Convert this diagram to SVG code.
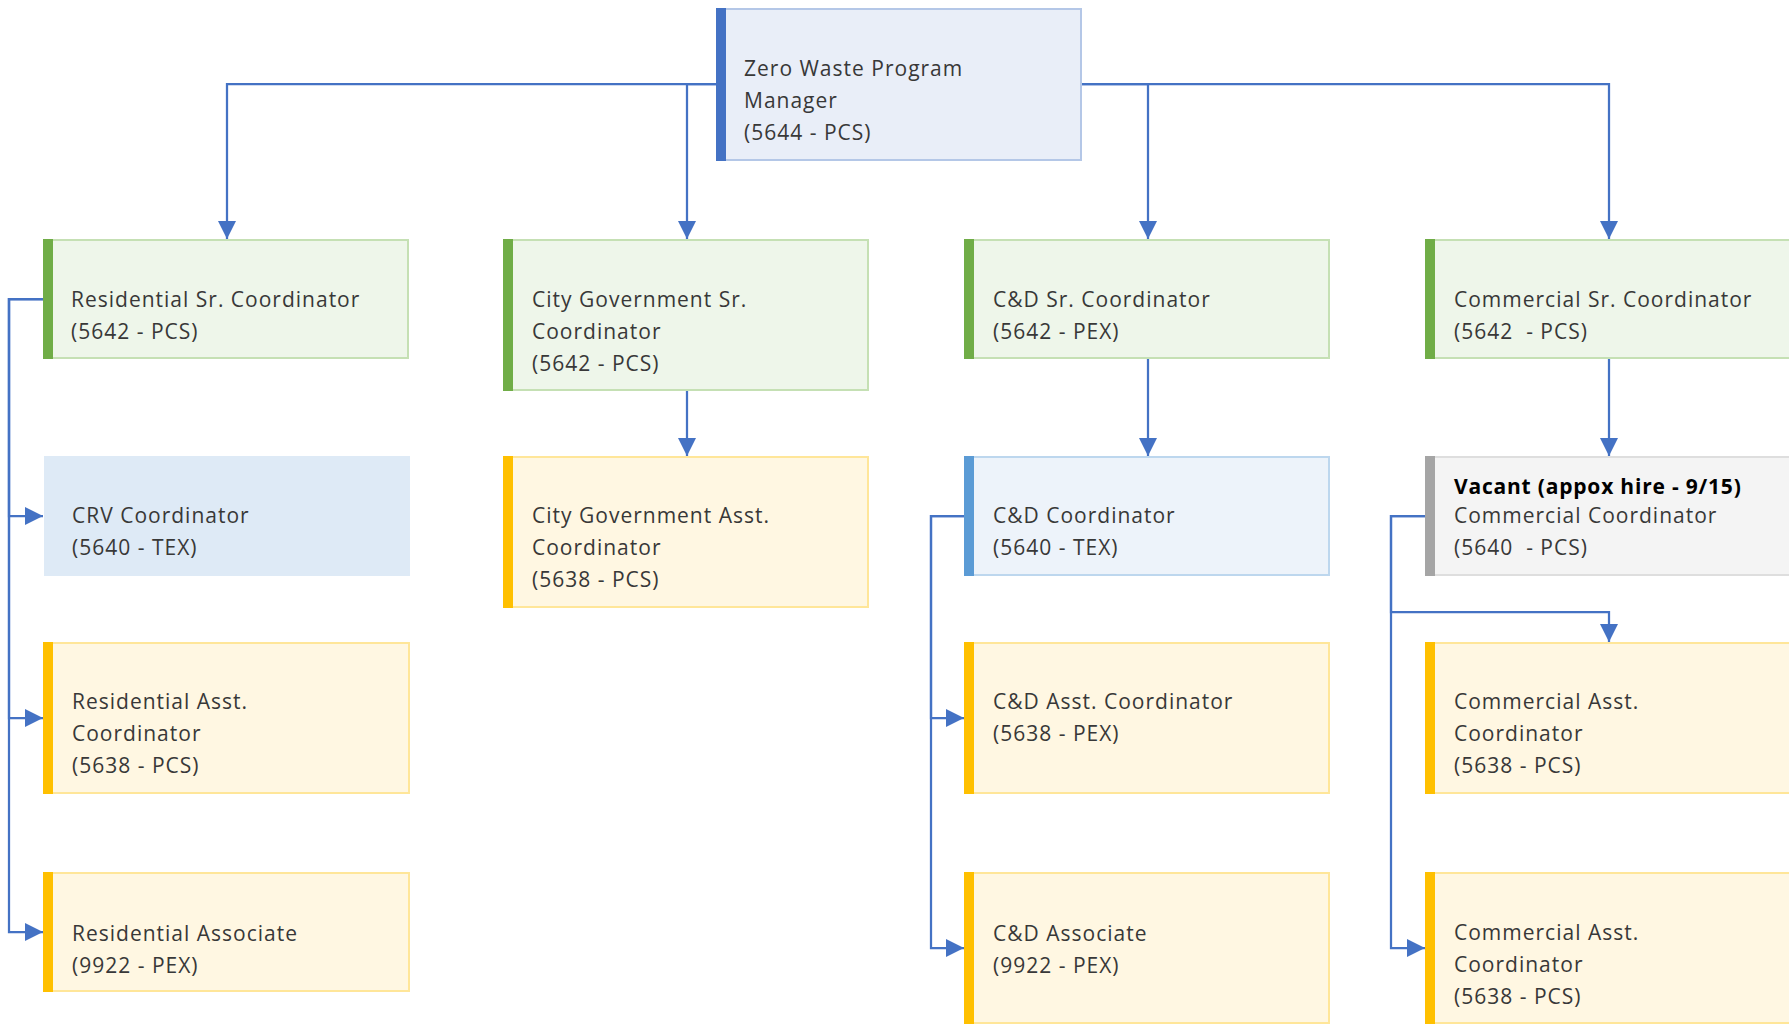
<svg xmlns="http://www.w3.org/2000/svg" width="1789" height="1024" viewBox="0 0 1789 1024">
<style>
  .box { stroke-width: 2; }
  .green { fill: #EEF6EA; stroke: #C5E0B4; }
  .yellow { fill: #FFF7E2; stroke: #FFE699; }
  .mgr { fill: #E9EEF8; stroke: #B4C7E7; }
  .lblue { fill: #EDF3FA; stroke: #BDD7EE; }
  .crv { fill: #DEEAF6; stroke: none; }
  .gray { fill: #F4F4F4; stroke: #DEDEDE; }
  .bar-green { fill: #70AD47; }
  .bar-yellow { fill: #FFC000; }
  .bar-blue { fill: #4472C4; }
  .bar-lblue { fill: #5B9BD5; }
  .bar-gray { fill: #A5A5A5; }
  text { font-family: "Open Sans", "Noto Sans", "DejaVu Sans", sans-serif; font-size: 21px; letter-spacing: 1px; fill: #383838; white-space: pre; }
  .bold { font-weight: bold; fill: #000000; letter-spacing: 0.8px; }
  .conn { fill: none; stroke: #4472C4; stroke-width: 2.25; marker-end: url(#arrow); }
</style>
<defs>
  <marker id="arrow" viewBox="0 0 18 18" refX="18" refY="9" markerWidth="18" markerHeight="18" orient="auto" markerUnits="userSpaceOnUse">
    <path d="M0,0 L18,9 L0,18 Z" fill="#4472C4"/>
  </marker>
</defs>

<g id="connectors">
  <path class="conn" d="M716,84 H227 V239"/>
  <path class="conn" d="M716,84 H687 V239"/>
  <path class="conn" d="M1082,84 H1148 V239"/>
  <path class="conn" d="M1082,84 H1609 V239"/>
  <path class="conn" d="M43,299 H9 V516 H43"/>
  <path class="conn" d="M43,299 H9 V718 H43"/>
  <path class="conn" d="M43,299 H9 V932 H43"/>
  <path class="conn" d="M687,391 V456"/>
  <path class="conn" d="M1148,359 V456"/>
  <path class="conn" d="M964,516 H931 V718 H964"/>
  <path class="conn" d="M964,516 H931 V948 H964"/>
  <path class="conn" d="M1609,359 V456"/>
  <path class="conn" d="M1425,516 H1391 V612 H1609 V642"/>
  <path class="conn" d="M1425,516 H1391 V948 H1425"/>
</g>

<g id="manager">
  <rect class="box mgr" x="717" y="9" width="364" height="151"/>
  <rect class="bar-blue" x="716" y="8" width="10" height="153"/>
  <text x="744" y="76">Zero Waste Program</text>
  <text x="744" y="108">Manager</text>
  <text x="744" y="140">(5644 - PCS)</text>
</g>

<g id="residential-sr">
  <rect class="box green" x="44" y="240" width="364" height="118"/>
  <rect class="bar-green" x="43" y="239" width="10" height="120"/>
  <text x="71" y="307">Residential Sr. Coordinator</text>
  <text x="71" y="339">(5642 - PCS)</text>
</g>

<g id="citygov-sr">
  <rect class="box green" x="504" y="240" width="364" height="150"/>
  <rect class="bar-green" x="503" y="239" width="10" height="152"/>
  <text x="532" y="307">City Government Sr.</text>
  <text x="532" y="339">Coordinator</text>
  <text x="532" y="371">(5642 - PCS)</text>
</g>

<g id="cd-sr">
  <rect class="box green" x="965" y="240" width="364" height="118"/>
  <rect class="bar-green" x="964" y="239" width="10" height="120"/>
  <text x="993" y="307">C&amp;D Sr. Coordinator</text>
  <text x="993" y="339">(5642 - PEX)</text>
</g>

<g id="commercial-sr">
  <rect class="box green" x="1426" y="240" width="364" height="118"/>
  <rect class="bar-green" x="1425" y="239" width="10" height="120"/>
  <text x="1454" y="307">Commercial Sr. Coordinator</text>
  <text x="1454" y="339">(5642  - PCS)</text>
</g>

<g id="crv">
  <rect class="crv" x="44" y="456" width="366" height="120"/>
  <text x="72" y="523">CRV Coordinator</text>
  <text x="72" y="555">(5640 - TEX)</text>
</g>

<g id="citygov-asst">
  <rect class="box yellow" x="504" y="457" width="364" height="150"/>
  <rect class="bar-yellow" x="503" y="456" width="10" height="152"/>
  <text x="532" y="523">City Government Asst.</text>
  <text x="532" y="555">Coordinator</text>
  <text x="532" y="587">(5638 - PCS)</text>
</g>

<g id="cd-coord">
  <rect class="box lblue" x="965" y="457" width="364" height="118"/>
  <rect class="bar-lblue" x="964" y="456" width="10" height="120"/>
  <text x="993" y="523">C&amp;D Coordinator</text>
  <text x="993" y="555">(5640 - TEX)</text>
</g>

<g id="vacant">
  <rect class="box gray" x="1426" y="457" width="364" height="118"/>
  <rect class="bar-gray" x="1425" y="456" width="10" height="120"/>
  <text class="bold" x="1454" y="494">Vacant (appox hire - 9/15)</text>
  <text x="1454" y="523">Commercial Coordinator</text>
  <text x="1454" y="555">(5640  - PCS)</text>
</g>

<g id="residential-asst">
  <rect class="box yellow" x="44" y="643" width="365" height="150"/>
  <rect class="bar-yellow" x="43" y="642" width="10" height="152"/>
  <text x="72" y="709">Residential Asst.</text>
  <text x="72" y="741">Coordinator</text>
  <text x="72" y="773">(5638 - PCS)</text>
</g>

<g id="cd-asst">
  <rect class="box yellow" x="965" y="643" width="364" height="150"/>
  <rect class="bar-yellow" x="964" y="642" width="10" height="152"/>
  <text x="993" y="709">C&amp;D Asst. Coordinator</text>
  <text x="993" y="741">(5638 - PEX)</text>
</g>

<g id="commercial-asst-1">
  <rect class="box yellow" x="1426" y="643" width="364" height="150"/>
  <rect class="bar-yellow" x="1425" y="642" width="10" height="152"/>
  <text x="1454" y="709">Commercial Asst.</text>
  <text x="1454" y="741">Coordinator</text>
  <text x="1454" y="773">(5638 - PCS)</text>
</g>

<g id="residential-associate">
  <rect class="box yellow" x="44" y="873" width="365" height="118"/>
  <rect class="bar-yellow" x="43" y="872" width="10" height="120"/>
  <text x="72" y="941">Residential Associate</text>
  <text x="72" y="973">(9922 - PEX)</text>
</g>

<g id="cd-associate">
  <rect class="box yellow" x="965" y="873" width="364" height="150"/>
  <rect class="bar-yellow" x="964" y="872" width="10" height="152"/>
  <text x="993" y="941">C&amp;D Associate</text>
  <text x="993" y="973">(9922 - PEX)</text>
</g>

<g id="commercial-asst-2">
  <rect class="box yellow" x="1426" y="873" width="364" height="150"/>
  <rect class="bar-yellow" x="1425" y="872" width="10" height="152"/>
  <text x="1454" y="940">Commercial Asst.</text>
  <text x="1454" y="972">Coordinator</text>
  <text x="1454" y="1004">(5638 - PCS)</text>
</g>
</svg>
